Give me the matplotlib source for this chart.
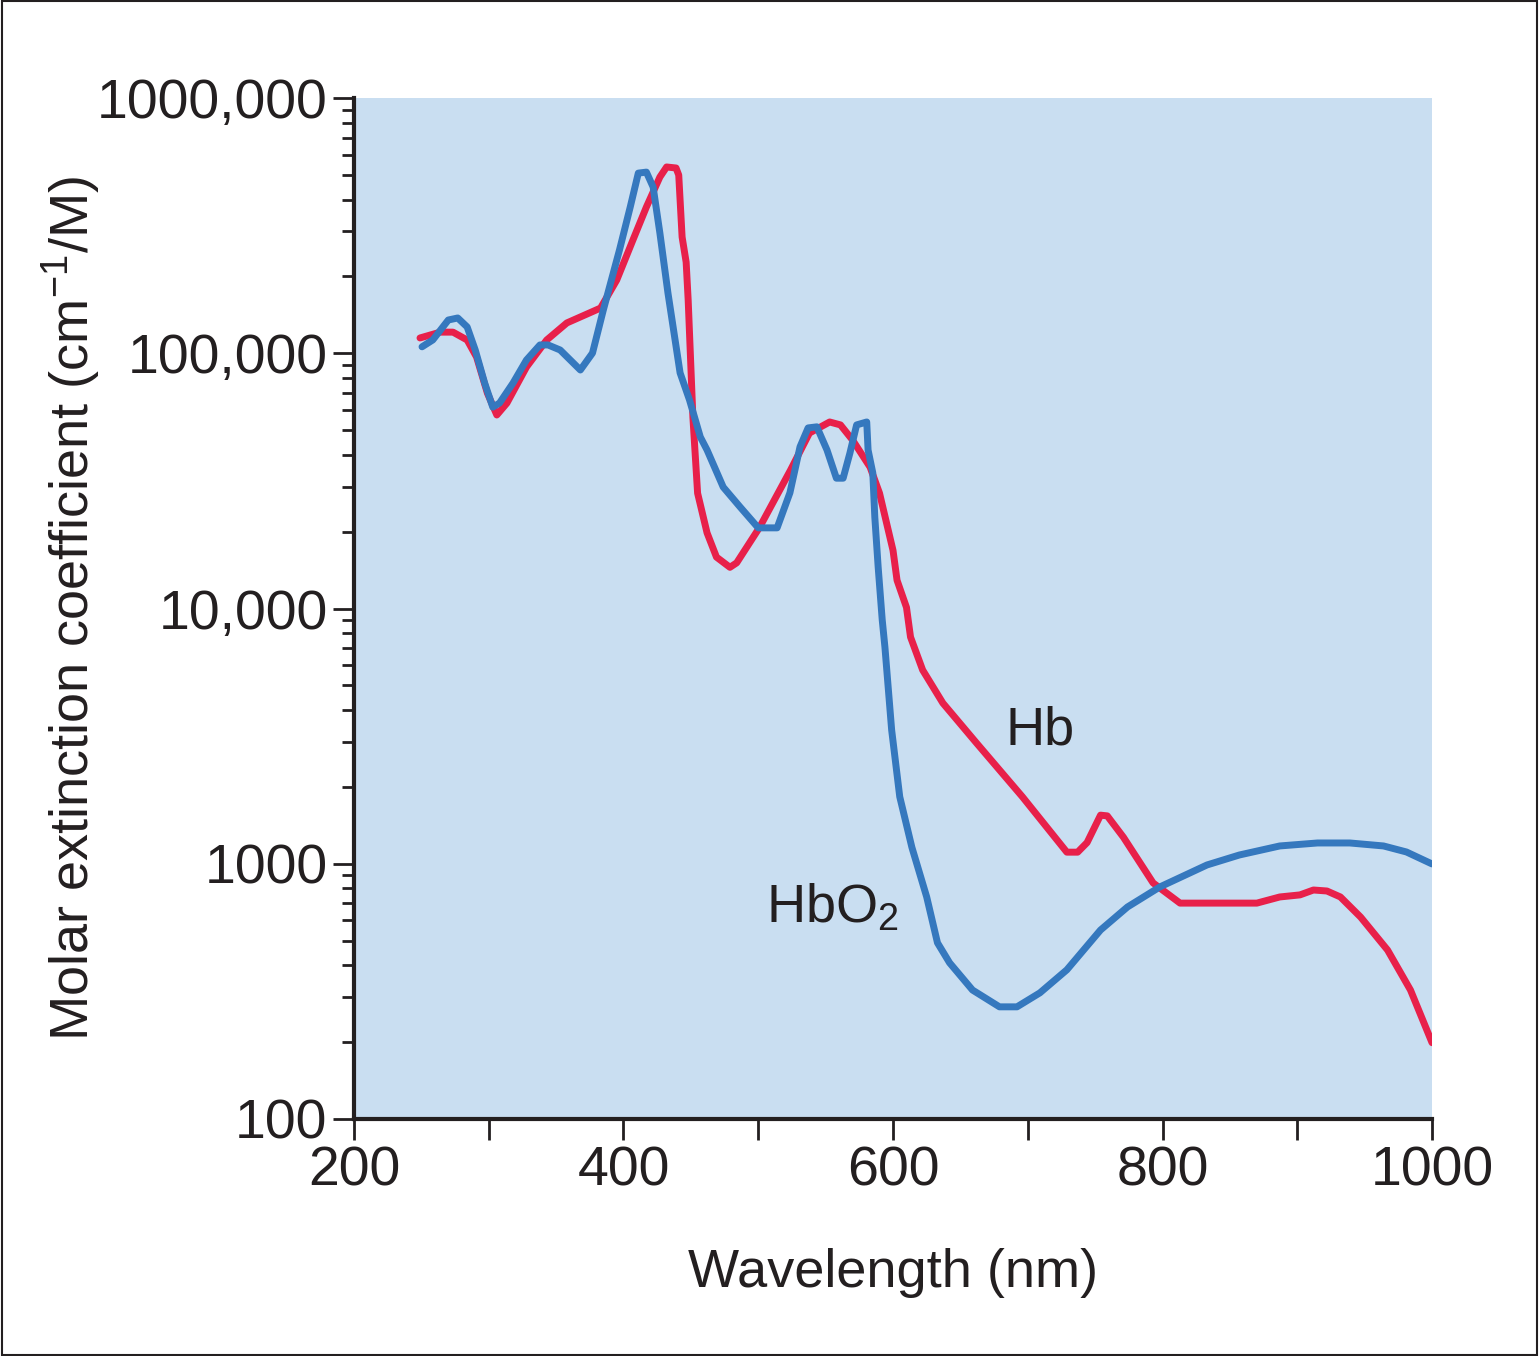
import matplotlib
matplotlib.use('Agg')
import matplotlib.pyplot as plt
from matplotlib.patches import Rectangle
from matplotlib.ticker import FixedLocator, FixedFormatter, LogLocator, NullFormatter

plt.rcParams['font.family'] = ['Liberation Sans', 'DejaVu Sans']
plt.rcParams['mathtext.default'] = 'regular'

# wavelength (nm) / molar extinction coefficient
hb_nm = [249, 264, 273.5, 284, 291, 299, 306, 313.5, 328, 343, 358, 383, 395, 407, 417,
         427, 432, 439, 441, 443.5, 446.5, 448, 449.5, 451.5, 455, 462, 469, 479, 484,
         501, 524, 538, 553, 561, 570, 583, 590, 600, 603, 610, 613, 622, 637, 662, 696,
         729, 737, 744, 754, 759, 771, 793, 813, 870, 887, 902, 912, 922, 932, 947, 967,
         984, 1000]
hb_eps = [114800, 121000, 121000, 112700, 96600, 69800, 57300, 63800, 88300, 112700,
          131500, 150400, 193600, 277800, 374200, 490200, 536900, 532000, 499000, 285300,
          227500, 161700, 103000, 56200, 28300, 19800, 15900, 14500, 15100, 20800, 34900,
          48700, 53800, 52400, 45700, 35800, 28300, 16900, 12900, 10100, 7730, 5740, 4260,
          2970, 1830, 1110, 1110, 1210, 1550, 1540, 1270, 841, 701, 701, 741, 755, 789,
          782, 741, 618, 459, 320, 199]

hbo2_nm = [250.5, 258.5, 270, 277, 284, 290, 297, 303, 308, 318, 328, 338, 344, 353,
           368, 377, 385, 397, 405, 411, 417, 422, 427, 433, 442, 449, 457, 462, 474,
           486.5, 500, 514, 523.5, 531, 537, 543.5, 551, 558, 563, 568, 573, 580.5, 581.5,
           585, 586.5, 589, 592, 594, 599, 605, 614, 625, 633, 642, 659, 679, 692, 709,
           729, 754, 774, 798, 833, 857, 887, 915, 939, 964, 981, 1000]
hbo2_eps = [106000, 112800, 135000, 137500, 126800, 103000, 76400, 61500, 63800, 76400,
            94100, 107800, 107800, 103000, 86000, 100200, 147500, 253600, 374000, 508000,
            512600, 448000, 296000, 172200, 83800, 65600, 47000, 41800, 29900, 25000,
            20700, 20700, 28400, 43000, 51000, 51500, 41800, 32400, 32400, 40600, 52400,
            53800, 41800, 34000, 22800, 14500, 9020, 7060, 3340, 1830, 1160, 741, 490,
            409, 320, 275, 275, 312, 384, 550, 677, 811, 989, 1082, 1174, 1206, 1206,
            1174, 1112, 998]

y_ticks = [100, 1000, 10000, 100000, 1000000]
y_tick_labels = ['100', '1000', '10,000', '100,000', '1000,000']
x_ticks = [200, 300, 400, 500, 600, 700, 800, 900, 1000]
x_tick_labels = ['200', '', '400', '', '600', '', '800', '', '1000']

text_col = '#231f20'

fig = plt.figure(figsize=(15.39, 13.56), dpi=100)
ax = fig.add_axes([0.2300, 0.1748, 0.7005, 0.7529])
ax.set_facecolor('#c9def1')

ax.plot(hb_nm, hb_eps, color='#e8204a', lw=5, solid_joinstyle='round',
        solid_capstyle='round', zorder=3)
ax.plot(hbo2_nm, hbo2_eps, color='#3578be', lw=5, solid_joinstyle='round',
        solid_capstyle='round', zorder=4)

ax.set_yscale('log')
ax.set_xlim(200, 1000)
ax.set_ylim(100, 1000000)

ax.yaxis.set_major_locator(FixedLocator(y_ticks))
ax.yaxis.set_major_formatter(FixedFormatter(y_tick_labels))
ax.yaxis.set_minor_locator(LogLocator(base=10, subs=range(2, 10)))
ax.yaxis.set_minor_formatter(NullFormatter())
ax.xaxis.set_major_locator(FixedLocator(x_ticks))
ax.xaxis.set_major_formatter(FixedFormatter(x_tick_labels))

for s in ['top', 'right']:
    ax.spines[s].set_visible(False)
for s in ['left', 'bottom']:
    ax.spines[s].set_linewidth(3)
    ax.spines[s].set_color(text_col)

ax.tick_params(axis='both', which='major', direction='out', length=15, width=2,
               color=text_col, labelsize=40, labelcolor=text_col, pad=4)
ax.tick_params(axis='y', which='minor', direction='out', length=9, width=2, color=text_col)

ax.set_xlabel('Wavelength (nm)', fontsize=39, color=text_col)
ax.xaxis.set_label_coords(0.5, -0.126)
ax.set_ylabel('Molar extinction coefficient (cm$^{-1}$/M)', fontsize=39, color=text_col)
ax.yaxis.set_label_coords(-0.233, 0.5)

ax.text(709, 3340, 'Hb', fontsize=39, color=text_col, ha='center', va='center')
ax.text(555, 670, 'HbO$_2$', fontsize=39, color=text_col, ha='center', va='center')

fig.patches.append(Rectangle((0.001, 0.001), 0.998, 0.998, transform=fig.transFigure,
                             fill=False, edgecolor=text_col, lw=1.5))

fig.savefig('out.png', dpi=100)
